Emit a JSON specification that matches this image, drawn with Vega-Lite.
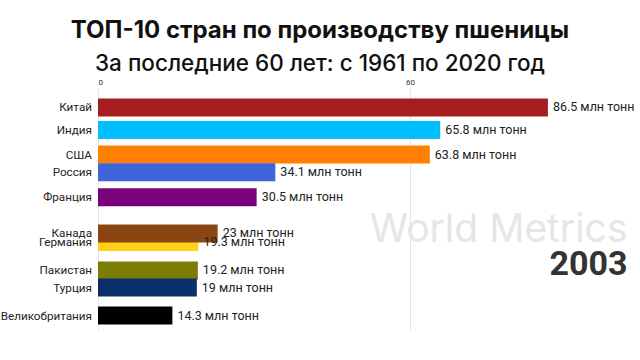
{
  "$schema": "https://vega.github.io/schema/vega-lite/v6.json",
  "width": 530,
  "height": 242,
  "autosize": {"type": "none"},
  "padding": {"left": 98, "top": 88, "right": 12, "bottom": 30},
  "background": "white",
  "title": {
    "text": "ТОП-10 стран по производству пшеницы",
    "subtitle": "За последние 60 лет: с 1961 по 2020 год",
    "anchor": "middle",
    "dx": -43,
    "offset": 3,
    "font": "Inter",
    "fontSize": 24,
    "fontWeight": 700,
    "color": "#111111",
    "subtitleFont": "Inter",
    "subtitleFontSize": 22.5,
    "subtitleFontWeight": 500,
    "subtitleColor": "#111111",
    "subtitlePadding": 10
  },
  "config": {"view": {"stroke": null}},
  "datasets": {
    "bars": [
      {"country": "Китай", "value": 86.5, "pos": 1.0, "label": "86.5 млн тонн"},
      {"country": "Индия", "value": 65.8, "pos": 1.974, "label": "65.8 млн тонн"},
      {"country": "США", "value": 63.8, "pos": 3.04, "label": "63.8 млн тонн"},
      {"country": "Россия", "value": 34.1, "pos": 3.8, "label": "34.1 млн тонн"},
      {"country": "Франция", "value": 30.5, "pos": 4.88, "label": "30.5 млн тонн"},
      {"country": "Германия", "value": 19.3, "pos": 6.82, "label": "19.3 млн тонн"},
      {"country": "Канада", "value": 23, "pos": 6.45, "label": "23 млн тонн"},
      {"country": "Пакистан", "value": 19.2, "pos": 8.05, "label": "19.2 млн тонн"},
      {"country": "Турция", "value": 19, "pos": 8.79, "label": "19 млн тонн"},
      {"country": "Великобритания", "value": 14.3, "pos": 10.0, "label": "14.3 млн тонн"}
    ],
    "watermark": [{"text": "World Metrics", "x": 101.8, "pos": 6.3}],
    "year": [{"text": "2003", "x": 101.8, "pos": 7.8}]
  },
  "layer": [
    {
      "data": {"name": "bars"},
      "mark": {"type": "bar", "orient": "horizontal", "size": 18},
      "encoding": {
        "x": {
          "field": "value",
          "type": "quantitative",
          "scale": {"domain": [0, 101.9], "nice": false, "zero": true},
          "axis": {
            "orient": "top",
            "values": [0, 60],
            "grid": true,
            "gridColor": "#e6e6e6",
            "gridWidth": 1,
            "domain": false,
            "ticks": false,
            "labelFont": "Roboto",
            "labelFontSize": 8,
            "labelColor": "#333333",
            "labelPadding": 2,
            "title": null
          }
        },
        "y": {
          "field": "pos",
          "type": "quantitative",
          "scale": {"domain": [0.378, 10.407], "reverse": true, "nice": false, "zero": false},
          "axis": null
        },
        "color": {
          "field": "country",
          "type": "nominal",
          "scale": {
            "domain": ["Китай", "Индия", "США", "Россия", "Франция", "Канада", "Германия", "Пакистан", "Турция", "Великобритания"],
            "range": ["#a51d21", "#00bfff", "#ff8000", "#3f65dc", "#7b007b", "#8b4513", "#ffd21a", "#7d7d06", "#0b2f69", "#000000"]
          },
          "legend": null
        }
      }
    },
    {
      "data": {"name": "bars"},
      "mark": {"type": "text", "align": "right", "baseline": "middle", "dx": -6, "font": "Roboto", "fontSize": 11.7, "color": "#222222"},
      "encoding": {
        "x": {"datum": 0, "type": "quantitative"},
        "y": {"field": "pos", "type": "quantitative"},
        "text": {"field": "country"}
      }
    },
    {
      "data": {"name": "bars"},
      "mark": {"type": "text", "align": "left", "baseline": "middle", "dx": 5, "font": "Roboto", "fontSize": 12.5, "color": "#222222"},
      "encoding": {
        "x": {"field": "value", "type": "quantitative"},
        "y": {"field": "pos", "type": "quantitative"},
        "text": {"field": "label"}
      }
    },
    {
      "data": {"name": "watermark"},
      "mark": {"type": "text", "align": "right", "baseline": "middle", "font": "Inter", "fontSize": 39, "fontWeight": 400, "color": "#e6e6e6"},
      "encoding": {
        "x": {"field": "x", "type": "quantitative"},
        "y": {"field": "pos", "type": "quantitative"},
        "text": {"field": "text"}
      }
    },
    {
      "data": {"name": "year"},
      "mark": {"type": "text", "align": "right", "baseline": "middle", "font": "Roboto", "fontSize": 34, "fontWeight": 700, "color": "#333333"},
      "encoding": {
        "x": {"field": "x", "type": "quantitative"},
        "y": {"field": "pos", "type": "quantitative"},
        "text": {"field": "text"}
      }
    }
  ]
}
